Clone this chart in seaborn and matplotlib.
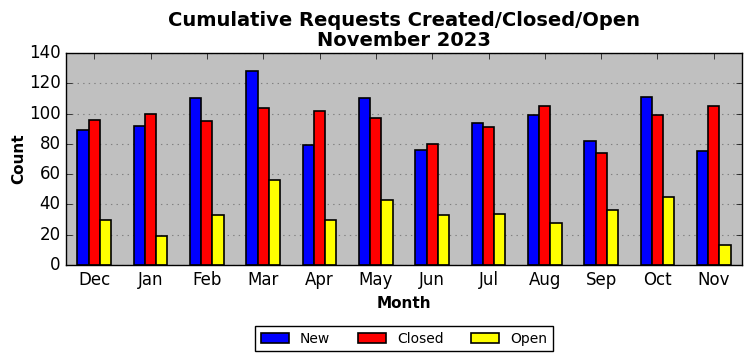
import seaborn as sns
import pandas as pd
import matplotlib.pyplot as plt
import numpy as np

months = ['Dec', 'Jan', 'Feb', 'Mar', 'Apr', 'May', 'Jun', 'Jul', 'Aug', 'Sep', 'Oct', 'Nov']
new = [89, 92, 110, 128, 79, 110, 76, 94, 99, 82, 111, 75]
closed = [96, 100, 95, 104, 102, 97, 80, 91, 105, 74, 99, 105]
open_ = [30, 19, 33, 56, 30, 43, 33, 34, 28, 36, 45, 13]

df = pd.DataFrame({'Month': months, 'New': new, 'Closed': closed, 'Open': open_})
long = df.melt(id_vars='Month', var_name='Status', value_name='Count')

plt.style.use('classic')
fig = plt.figure(figsize=(7.52, 3.61), dpi=100)
ax = fig.add_axes([66 / 752, 1 - 265 / 361, 676 / 752, 212 / 361])
ax.set_facecolor('silver')

sns.barplot(data=long, x='Month', y='Count', hue='Status', order=months,
            palette=['blue', 'red', 'yellow'], width=0.6, saturation=1,
            edgecolor='black', linewidth=1.2, ax=ax)

ax.set_xlim(-0.5, 11.5)
ax.set_ylim(0, 140)
ax.set_yticks(range(0, 141, 20))
ax.yaxis.grid(True, linestyle=':', color='gray', linewidth=0.8)
ax.xaxis.grid(False)
ax.set_axisbelow(True)
ax.tick_params(labelsize=12)
ax.set_xlabel('Month', fontsize=11, fontweight='bold')
ax.set_ylabel('Count', fontsize=11, fontweight='bold', labelpad=2)
ax.set_title('Cumulative Requests Created/Closed/Open\nNovember 2023',
             fontsize=14, fontweight='bold', linespacing=1.1)

ax.legend(loc='upper center', bbox_to_anchor=(0.5, -0.255), ncol=3,
          fontsize=10, frameon=True, fancybox=False, edgecolor='black',
          handlelength=2.0, columnspacing=2.0)

fig.savefig('out.png', dpi=100)
